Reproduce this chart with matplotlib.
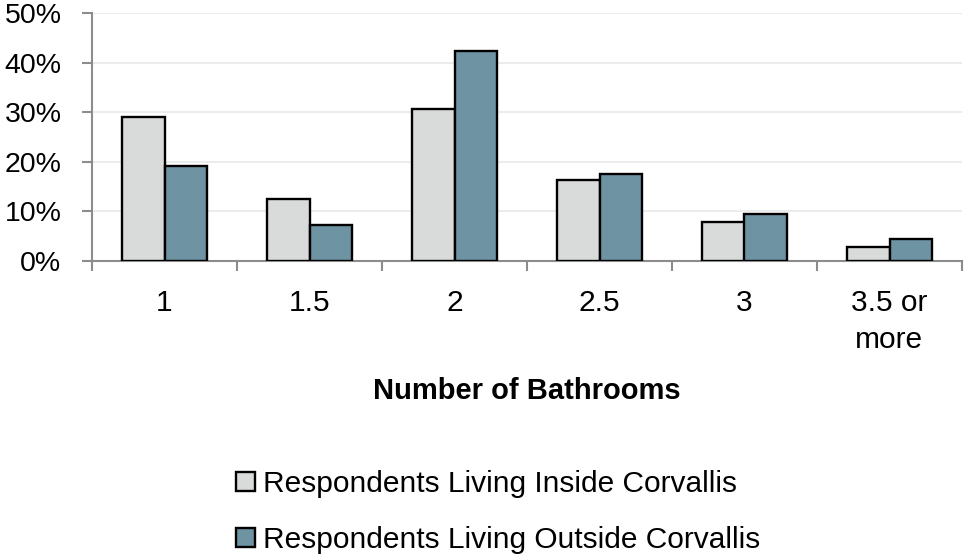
import numpy as np
import matplotlib
matplotlib.use("Agg")
import matplotlib.pyplot as plt
from matplotlib.ticker import FixedLocator, PercentFormatter

categories = ["1", "1.5", "2", "2.5", "3", "3.5 or\nmore"]
inside = [29.0, 12.6, 30.6, 16.4, 7.8, 2.8]
outside = [19.2, 7.2, 42.4, 17.5, 9.4, 4.4]
series_names = ["Respondents Living Inside Corvallis",
                "Respondents Living Outside Corvallis"]

plt.rcParams['font.family'] = ['Liberation Sans', 'DejaVu Sans']

fig = plt.figure(figsize=(9.67, 5.54), dpi=100)
ax = fig.add_axes([92/967, 1-261/554, 870/967, 248/554])

x = np.arange(len(categories))
w = 0.29
b1 = ax.bar(x - w/2, inside, w, color="#d9dbda", edgecolor="black", linewidth=1.7,
            label=series_names[0], zorder=3)
b2 = ax.bar(x + w/2, outside, w, color="#6e93a2", edgecolor="black", linewidth=1.7,
            label=series_names[1], zorder=3)

ax.set_xlim(-0.5, len(categories) - 0.5)
ax.set_ylim(0, 50)
ax.set_yticks(np.arange(0, 51, 10))
ax.yaxis.set_major_formatter(PercentFormatter(decimals=0))
ax.yaxis.grid(True, color="#ececec", linewidth=1.5, zorder=0)

ax.set_xticks(x)
ax.set_xticklabels(categories, fontsize=21.5, linespacing=1.4)
ax.xaxis.set_minor_locator(FixedLocator(np.arange(-0.5, len(categories), 1)))
ax.tick_params(axis="x", which="major", length=0, pad=20)
ax.tick_params(axis="x", which="minor", length=7, width=1.5, color="#8c8c8c")
ax.tick_params(axis="y", length=7, width=1.5, color="#8c8c8c", labelsize=20.5, pad=15)

for s in ["top", "right"]:
    ax.spines[s].set_visible(False)
for s in ["left", "bottom"]:
    ax.spines[s].set_color("#8c8c8c")
    ax.spines[s].set_linewidth(1.5)

ax.set_xlabel("Number of Bathrooms", fontsize=21, fontweight="bold", labelpad=17)

fig.legend(handles=[b1, b2], loc="center", bbox_to_anchor=(498/967, 1-512/554),
           frameon=False, fontsize=21.5, handlelength=0.63, handleheight=0.63,
           handletextpad=0.27, labelspacing=0.95, borderpad=0)

fig.savefig("out.png", dpi=100)
